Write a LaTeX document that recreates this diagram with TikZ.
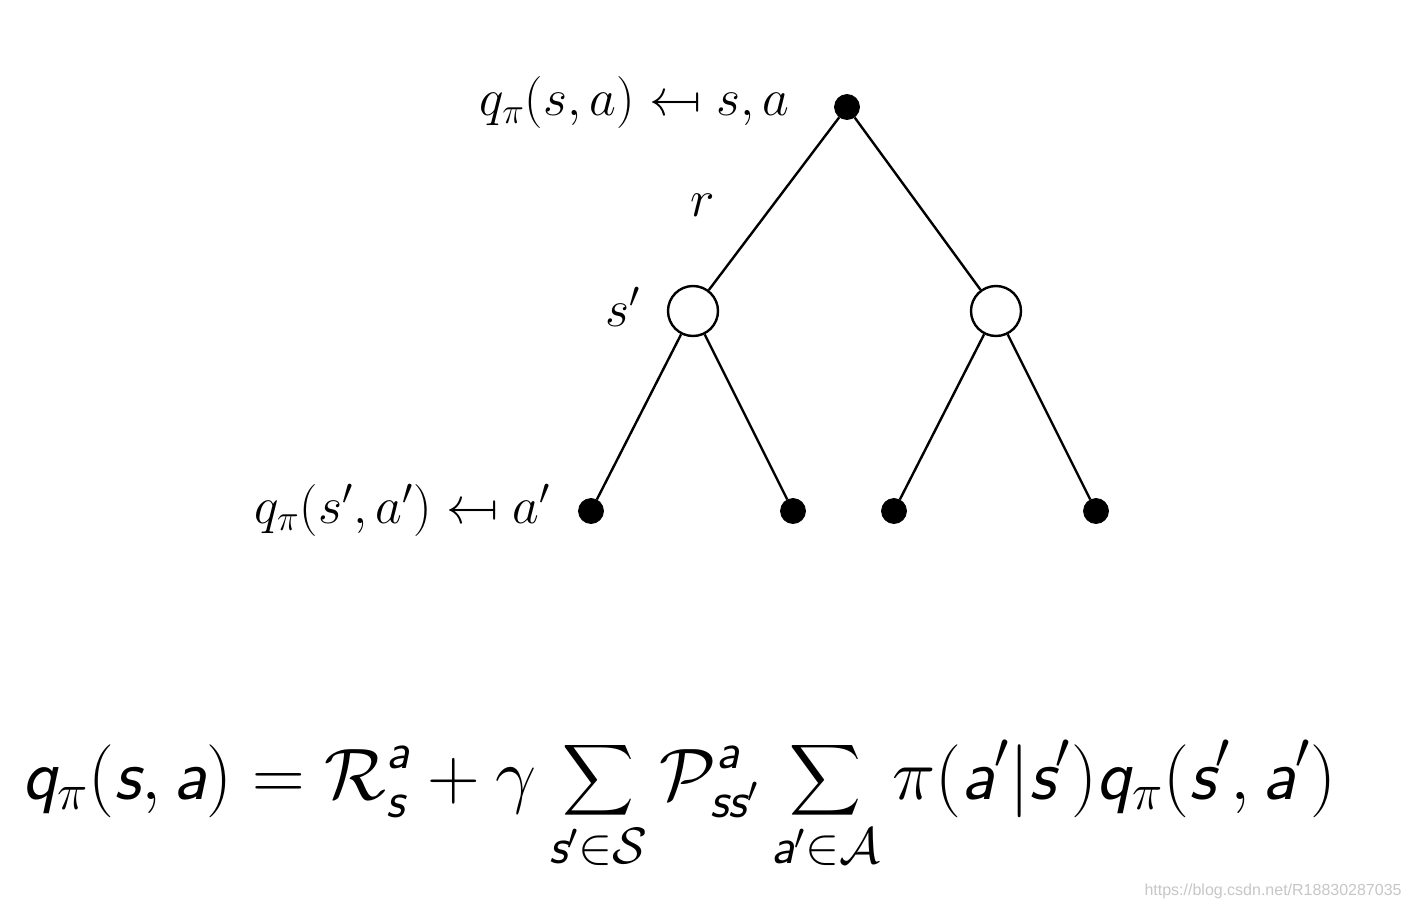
\RequirePackage{fix-cm}
\documentclass[tikz,border=0pt]{standalone}
\usepackage{amsmath}
\usepackage{graphicx}
\usepackage{fontspec}
\newfontfamily\wmfont{Liberation Sans}
\DeclareMathAlphabet{\mathsfit}{TU}{lmss}{m}{sl}
\newcommand\sv[1]{\mathsfit{#1}}
\newcommand\mfrom{\mathrel{\reflectbox{$\mapsto$}}}
\begin{document}
\begin{tikzpicture}[x=0.5pt,y=-0.5pt,
  dotnode/.style={circle,fill=black,draw=black,inner sep=0pt,minimum size=12.5pt},
  opennode/.style={circle,fill=white,draw=black,line width=1.2pt,inner sep=0pt,minimum size=25pt},
  edge/.style={line width=1.2pt},
  lbl/.style={font=\fontsize{26}{32}\selectfont,inner sep=0pt}]
\useasboundingbox[fill=white] (0,0) rectangle (1410,910);
\node[dotnode] (root) at (847,107) {};
\node[opennode] (o1) at (693,311) {};
\node[opennode] (o2) at (996,311) {};
\node[dotnode] (l1) at (591,511) {};
\node[dotnode] (l2) at (793,511) {};
\node[dotnode] (l3) at (894,511) {};
\node[dotnode] (l4) at (1096,511) {};
\draw[edge] (root) -- (o1);
\draw[edge] (root) -- (o2);
\draw[edge] (o1) -- (l1);
\draw[edge] (o1) -- (l2);
\draw[edge] (o2) -- (l3);
\draw[edge] (o2) -- (l4);
\node[lbl,anchor=east] (t1) at (790,103) {$q_\pi(s,a)\mfrom s,a$};
\node[lbl] (r) at (703,205) {$r$};
\node[lbl] (sp) at (623,307) {$s'$};
\node[lbl,anchor=east] (t2) at (551,510) {$q_\pi(s',a')\mfrom a'$};
\node[inner sep=0pt,anchor=base west,font=\fontsize{36.5}{44}\selectfont] (eq) at (22,799)
 {$\displaystyle \sv{q}_\pi(\sv{s},\sv{a}) = \mathcal{R}^{\sv{a}}_{\sv{s}} + \gamma \sum_{\sv{s}'\in\mathcal{S}} \mathcal{P}^{\sv{a}}_{\sv{ss}'} \sum_{\sv{a}'\in\mathcal{A}} \pi(\sv{a}'|\sv{s}')\sv{q}_\pi(\sv{s}',\sv{a}')$};
\node[inner sep=0pt,anchor=east,font=\wmfont\fontsize{8}{9}\selectfont,text=black!22] (wm) at (1402,891) {https://blog.csdn.net/R18830287035};
\end{tikzpicture}
\end{document}
